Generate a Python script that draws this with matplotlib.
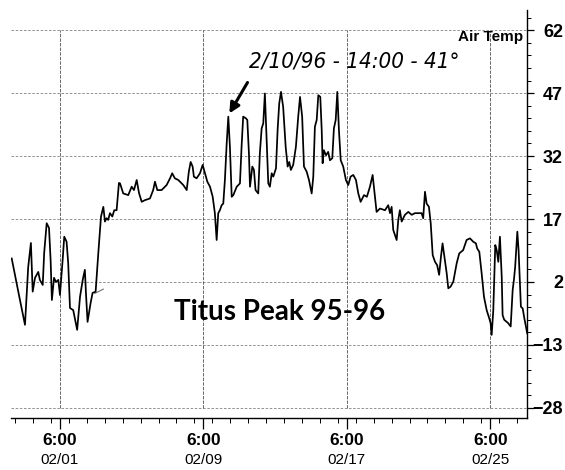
import numpy as np
import matplotlib.pyplot as plt
from matplotlib.ticker import FixedLocator, NullFormatter
import matplotlib.transforms as mtransforms

# days after 02/01 00:00 and air temperature (deg F)
days = [-2.44, -2.26, -1.98, -1.70, -1.52, -1.37, -1.27, -1.14, -0.96, -0.87,
        -0.71, -0.63, -0.49, -0.36, -0.27, -0.20, -0.08, 0.03, 0.16, 0.25,
        0.40, 0.49, 0.62, 0.71, 0.81, 0.99, 1.21, 1.37, 1.52, 1.64,
        1.70, 1.79, 1.96, 2.07, 2.24, 2.39, 2.54, 2.67, 2.76, 2.85,
        2.94, 3.04, 3.17, 3.28, 3.41, 3.54, 3.60, 3.78, 4.06, 4.25,
        4.38, 4.53, 4.66, 4.81, 4.99, 5.27, 5.45, 5.55, 5.68, 5.92,
        6.20, 6.39, 6.51, 6.66, 6.85, 7.13, 7.32, 7.44, 7.54, 7.65,
        7.72, 7.87, 8.06, 8.21, 8.34, 8.47, 8.62, 8.77, 8.89, 8.99,
        9.08, 9.17, 9.27, 9.36, 9.45, 9.55, 9.64, 9.73, 9.83, 9.92,
        10.11, 10.29, 10.38, 10.47, 10.62, 10.70, 10.79, 10.85, 10.98, 11.07,
        11.16, 11.31, 11.40, 11.50, 11.59, 11.68, 11.78, 11.87, 11.96, 12.06,
        12.15, 12.30, 12.39, 12.48, 12.58, 12.70, 12.84, 12.95, 13.04, 13.13,
        13.26, 13.41, 13.54, 13.64, 13.76, 13.86, 14.01, 14.14, 14.29, 14.38,
        14.47, 14.57, 14.66, 14.77, 14.85, 14.90, 14.97, 15.09, 15.21, 15.31,
        15.44, 15.53, 15.63, 15.72, 15.81, 15.91, 16.05, 16.20, 16.33, 16.46,
        16.61, 16.76, 16.89, 17.02, 17.21, 17.37, 17.54, 17.69, 17.82, 17.91,
        18.10, 18.38, 18.56, 18.66, 18.75, 18.84, 19.03, 19.12, 19.21, 19.31,
        19.49, 19.68, 19.87, 20.05, 20.42, 20.51, 20.61, 20.70, 20.83, 20.93,
        21.04, 21.17, 21.29, 21.40, 21.50, 21.59, 21.72, 21.82, 21.91, 22.04,
        22.19, 22.38, 22.52, 22.74, 22.93, 23.12, 23.30, 23.45, 23.52, 23.64,
        23.77, 23.90, 24.05, 24.19, 24.27, 24.33, 24.42, 24.53, 24.61, 24.70,
        24.79, 24.89, 24.94, 25.03, 25.25, 25.39, 25.50, 25.57, 25.64, 25.76,
        25.83, 25.91, 25.96, 26.06, 26.15, 26.24, 26.31]
temps = [7.6, 3.7, -2.3, -8.2, 5.6, 11.3, -0.3, 3.0, 4.4, 2.5,
         1.3, 8.9, 16.0, 14.9, 7.2, -2.3, 3.0, 2.0, 2.5, -1.1,
         7.2, 12.8, 11.6, 6.5, -4.2, -4.7, -9.4, -1.5, 2.5, 4.9,
         -0.6, -7.5, -3.0, -0.6, -0.3, 8.9, 17.6, 19.9, 16.4, 17.2,
         16.8, 18.4, 17.6, 19.1, 19.1, 25.6, 25.5, 23.1, 22.7, 24.7,
         23.9, 26.3, 23.2, 21.1, 21.5, 21.9, 23.9, 25.9, 23.9, 23.9,
         25.1, 26.7, 27.9, 26.7, 26.3, 25.1, 23.9, 28.3, 30.6, 29.5,
         27.1, 26.7, 27.9, 29.9, 27.9, 25.9, 24.7, 22.3, 18.4, 12.0,
         18.4, 19.1, 20.3, 20.7, 26.3, 35.0, 41.4, 34.2, 22.3, 22.7,
         24.7, 25.5, 34.2, 41.4, 41.0, 40.6, 32.7, 24.7, 29.5, 28.7,
         23.9, 23.1, 32.7, 38.6, 39.8, 46.9, 35.8, 25.5, 24.7, 27.9,
         27.1, 29.1, 38.2, 44.5, 47.3, 43.7, 34.2, 29.5, 30.6, 28.7,
         29.9, 34.2, 41.4, 46.1, 41.4, 29.5, 28.3, 26.3, 23.1, 27.1,
         39.0, 40.6, 46.5, 46.1, 38.2, 30.3, 33.4, 32.2, 33.0, 31.0,
         31.5, 38.6, 40.6, 47.3, 38.2, 31.0, 29.5, 26.3, 25.1, 27.1,
         27.5, 26.3, 23.1, 21.1, 22.7, 22.3, 24.7, 27.5, 22.3, 18.7,
         19.5, 19.1, 20.3, 18.4, 19.9, 14.4, 12.0, 16.8, 19.1, 16.4,
         18.0, 18.7, 18.0, 18.4, 18.4, 17.2, 23.5, 20.7, 19.9, 16.0,
         8.4, 6.8, 6.0, 3.7, 8.0, 11.2, 7.2, 4.1, 0.5, 0.9,
         2.1, 6.5, 8.8, 9.6, 12.0, 12.4, 11.6, 11.2, 10.0, 9.2,
         4.1, -1.5, -4.7, -6.6, -7.8, -10.6, -4.7, 10.8, 9.6, 6.8,
         12.8, 3.3, -5.9, -7.0, -7.8, -8.6, 0.1, 2.5, 5.6, 14.0,
         9.6, 0.9, -3.9, -4.3, -6.6, -8.6, -10.2]

# stray pen stroke on the scan
mark_days = [2.20, 2.67]
mark_temps = [-0.7, 0.3]

y_ticks = [62, 47, 32, 17, 2, -13, -28]
x_major = [0.25, 8.25, 16.25, 24.25]
x_times = ['6:00', '6:00', '6:00', '6:00']
x_dates = ['02/01', '02/09', '02/17', '02/25']

peak_day, peak_temp = 9.62, 41.6
note = '2/10/96 - 14:00 - 41°'

narrow = ['Liberation Sans Narrow', 'Liberation Sans', 'DejaVu Sans']

fig = plt.figure(figsize=(5.65, 4.7), dpi=100)
ax = fig.add_axes([11 / 565, 52 / 470, 516 / 565, 408 / 470])
ax.set_xlim(-2.48, 26.30)
ax.set_ylim(-30.4, 66.8)

# grid
for y in y_ticks:
    ax.axhline(y, color='0.5', lw=0.6, ls=(0, (3, 2)), zorder=1)
ax.vlines(x_major, -28, 62, color='0.3', lw=0.6, ls=(0, (4, 1.5)), zorder=1)

ax.plot(days, temps, color='black', lw=1.25, zorder=3)
ax.plot(mark_days, mark_temps, color='0.45', lw=0.8, zorder=2)

# spines
ax.spines['left'].set_visible(False)
ax.spines['top'].set_visible(False)
ax.spines['right'].set_linewidth(1.0)
ax.spines['bottom'].set_linewidth(1.0)

# y axis on the right
ax.yaxis.tick_right()
ax.yaxis.set_major_locator(FixedLocator(y_ticks))
ax.yaxis.set_minor_locator(FixedLocator(np.arange(-28, 66, 3)))
ax.yaxis.set_minor_formatter(NullFormatter())
ax.tick_params(axis='y', which='major', length=5, width=0.9, pad=21,
               labelsize=13)
ax.tick_params(axis='y', which='minor', length=3, width=0.7)
for lab in ax.get_yticklabels():
    lab.set_ha('right')
    lab.set_family(narrow)
    lab.set_weight('bold')

# x axis
ax.xaxis.set_major_locator(FixedLocator(x_major))
ax.xaxis.set_minor_locator(FixedLocator(np.arange(-2.25, 26.3, 1.0)))
ax.xaxis.set_minor_formatter(NullFormatter())
ax.set_xticklabels(x_times)
ax.tick_params(axis='x', which='major', length=8, width=0.9, pad=3,
               labelsize=12.5)
ax.tick_params(axis='x', which='minor', length=3.5, width=0.7)
for lab in ax.get_xticklabels():
    lab.set_family(narrow)
    lab.set_weight('bold')

trans = mtransforms.blended_transform_factory(ax.transData, ax.transAxes)
for xd, txt in zip(x_major, x_dates):
    ax.text(xd, -0.085, txt, transform=trans, ha='center', va='top',
            fontsize=11, family=narrow)

# labels and notes
ax.text(26.07, 60.3, 'Air Temp', ha='right', va='center', fontsize=11,
        family=narrow, weight='bold')
ax.text(12.52, -5.1, 'Titus Peak 95-96', ha='center', va='center',
        fontsize=20, family=['Lato', 'DejaVu Sans'], weight='bold')

ax.annotate('', xy=(peak_day, peak_temp), xytext=(10.79, 50.1),
            arrowprops=dict(arrowstyle='-|>', color='black', lw=2.2,
                            mutation_scale=15))
ax.text(10.79, 53.2, note, ha='left', va='baseline', fontsize=16,
        style='italic', stretch='condensed', weight='medium',
        family=['DejaVu Sans'])

fig.savefig('out.png', dpi=100)
